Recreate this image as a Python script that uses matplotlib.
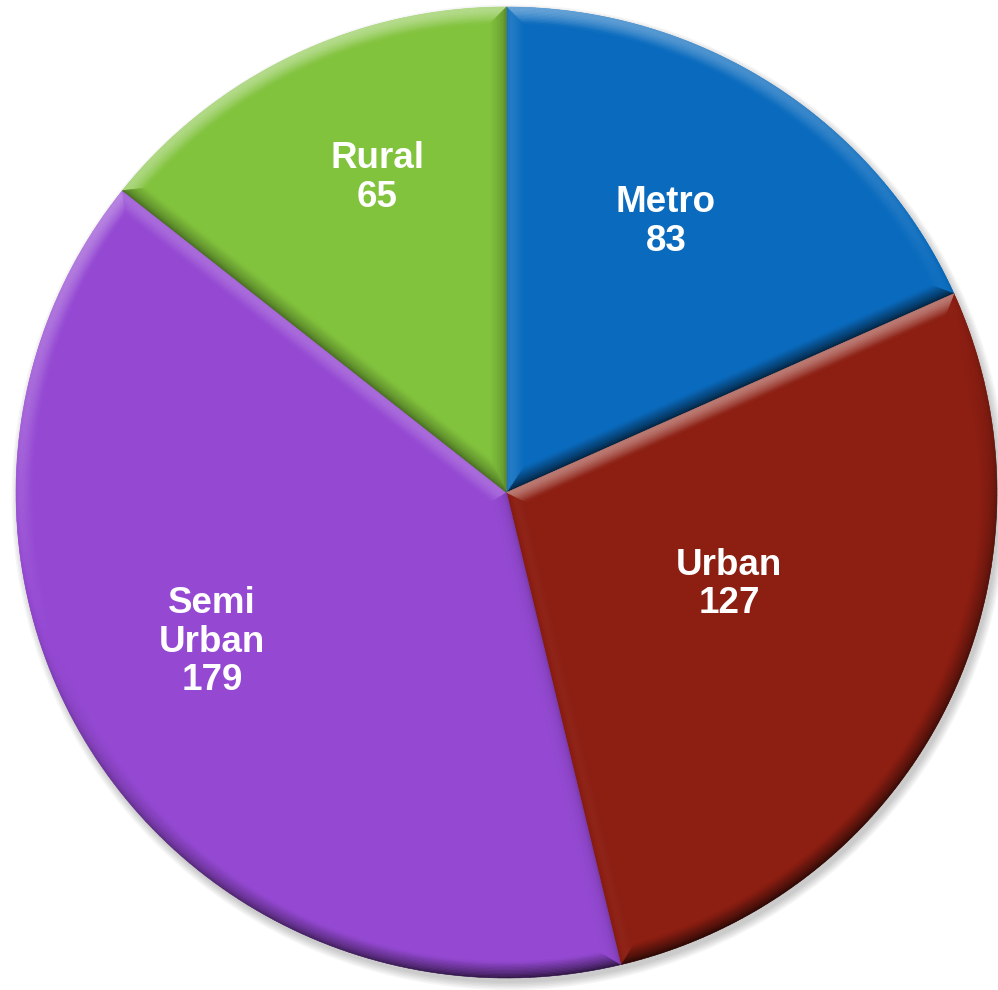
import numpy as np
import matplotlib
matplotlib.use("Agg")
import matplotlib.pyplot as plt
from matplotlib.patches import Ellipse
from matplotlib.collections import PolyCollection
from matplotlib.colors import to_rgb

categories = ["Metro", "Urban", "Semi\nUrban", "Rural"]
values = [83, 127, 179, 65]
colors = ["#0A6BBE", "#8C1E12", "#9549D3", "#82C33D"]

# label anchor positions (fraction of radius, axis coordinates of the pie)
label_pos = [(0.325, 0.557), (0.454, -0.190), (-0.600, -0.308), (-0.263, 0.648)]

fig = plt.figure(figsize=(9.98, 9.90), dpi=100)
ax = fig.add_axes([0, 0, 1, 1])

# soft drop shadow
for k in range(6):
    e = Ellipse((0.006, -0.010), 2.0 + 0.006 * k, 2.0 + 0.006 * k,
                facecolor="black", edgecolor="none", alpha=0.035, zorder=0)
    ax.add_patch(e)

wedges, _ = ax.pie(values, colors=colors, startangle=90, counterclock=False,
                   radius=1.0, wedgeprops=dict(linewidth=0, zorder=1))
ax.set_aspect("auto")
ax.set_xlim(-1.0326, 1.0020)
ax.set_ylim(-1.0247, 1.0144)
ax.axis("off")

L = np.array([-0.35, 1.0])
L = L / np.linalg.norm(L)


def inset(t1, t2, d, n=120):
    a = t2 - t1
    u = 0.5 * (t1 + t2)
    apex = (d / np.sin(a / 2)) * np.array([np.cos(u), np.sin(u)])
    tt = np.sqrt((1 - d) ** 2 - d ** 2)
    e1 = np.array([np.cos(t1), np.sin(t1)])
    n1 = np.array([-np.sin(t1), np.cos(t1)])
    e2 = np.array([np.cos(t2), np.sin(t2)])
    n2 = np.array([np.sin(t2), -np.cos(t2)])
    p1 = tt * e1 + d * n1
    p2 = tt * e2 + d * n2
    ph1 = t1 + np.arctan2(d, tt)
    ph2 = t2 - np.arctan2(d, tt)
    phis = np.linspace(ph1, ph2, n)
    arc = np.c_[(1 - d) * np.cos(phis), (1 - d) * np.sin(phis)]
    arc[0] = p1
    arc[-1] = p2
    return apex, arc, phis, n1, n2


def shade(c, v):
    c = np.array(c)
    v = max(-0.85, min(0.85, v))
    if v >= 0:
        return tuple(c + (1 - c) * v)
    return tuple(c * (1 + v))


def val(nrm, tmid):
    prof = (1 - tmid) ** 0.9
    s = np.dot(nrm, L)
    v = 0.55 * prof * s
    if s < 0:
        v *= 1.1
    v -= 0.14 * (1 - tmid) ** 5
    return v


w = 0.034
m = 12
for wd, col in zip(wedges, colors):
    base = to_rgb(col)
    t1 = np.deg2rad(wd.theta1)
    t2 = np.deg2rad(wd.theta2)
    polys, fcs = [], []
    for j in range(m):
        d0 = w * j / m
        d1 = w * (j + 1) / m
        tmid = (j + 0.5) / m
        a0, arc0, ph, n1, n2 = inset(t1, t2, d0)
        a1, arc1, _, _, _ = inset(t1, t2, d1)
        for i in range(len(ph) - 1):
            pm = 0.5 * (ph[i] + ph[i + 1])
            nrm = np.array([np.cos(pm), np.sin(pm)])
            polys.append([arc0[i], arc0[i + 1], arc1[i + 1], arc1[i]])
            fcs.append(shade(base, val(nrm, tmid)))
        for p0, p1_, nr in ((arc0[0], arc1[0], -n1), (arc0[-1], arc1[-1], -n2)):
            polys.append([a0, p0, p1_, a1])
            fcs.append(shade(base, val(nr, tmid)))
    pc = PolyCollection(polys, facecolors=fcs, edgecolors=fcs, linewidths=0.4,
                        zorder=2)
    ax.add_collection(pc)

for (x, y), lab in zip(label_pos, categories):
    i = categories.index(lab)
    ax.text(x, y, f"{lab}\n{values[i]}", ha="center", va="center",
            color="white", fontsize=26.5, fontweight="bold",
            family=["Liberation Sans", "DejaVu Sans"], linespacing=1.12,
            zorder=5)

fig.savefig("out.png", dpi=100)
